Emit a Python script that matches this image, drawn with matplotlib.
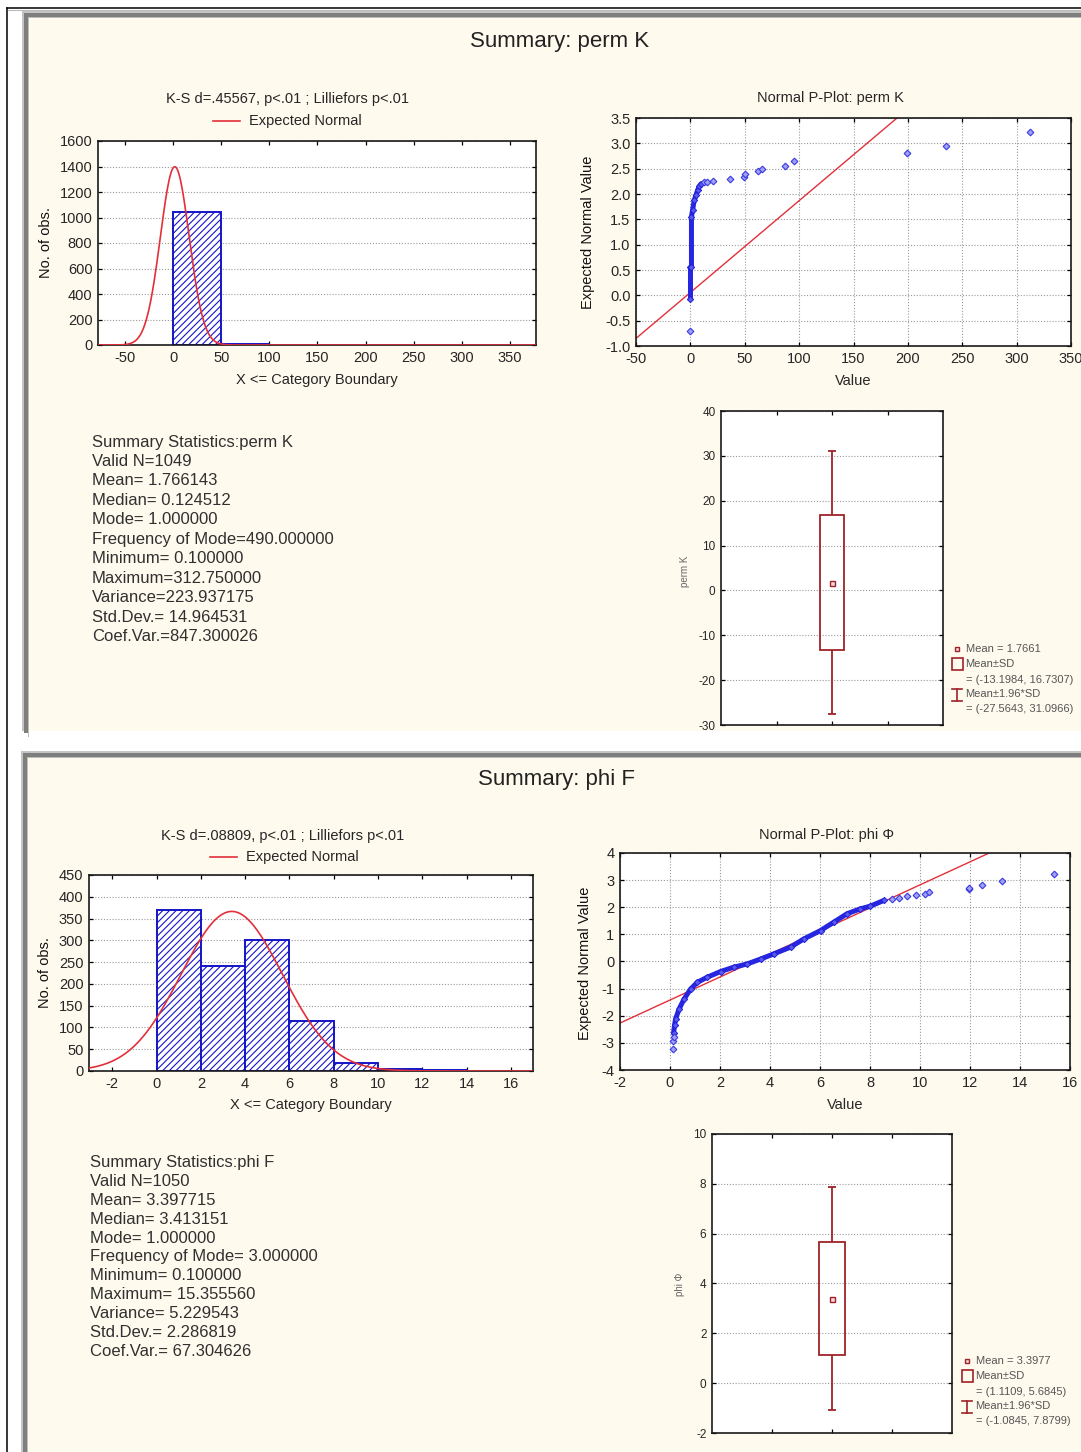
import numpy as np
import matplotlib
matplotlib.use("Agg")
import matplotlib.pyplot as plt
from matplotlib.patches import Rectangle
from matplotlib.ticker import FormatStrFormatter

plt.rcParams['font.family'] = ['Liberation Sans', 'DejaVu Sans']
plt.rcParams['axes.unicode_minus'] = False
plt.rcParams['hatch.linewidth'] = 0.8

W, H = 1081, 1452

# ---------------- perm K ----------------
perm_edges = [0, 50, 100, 150, 200, 250, 300]
perm_counts = [1040, 6, 0, 1, 1, 0, 1]
perm_n = 1049
perm_mean = 1.766143
perm_sd = 14.964531
perm_ks = "K-S d=.45567, p<.01 ; Lilliefors p<.01"

# normal probability plot (value, expected normal value)
perm_pp_dense_x = [0.1, 0.1, 1.0, 1.0, 2.0, 3.6, 5.2, 6.7, 8.2, 9.8]
perm_pp_dense_z = [-0.07, 0.55, 0.56, 1.55, 1.68, 1.88, 1.98, 2.08, 2.15, 2.20]
perm_pp_x = [0.1, 12.8, 15.3, 21.0, 36.4, 49.0, 50.5, 61.9, 66.0, 86.7, 95.6, 199.2, 234.8, 312.75]
perm_pp_z = [-0.70, 2.23, 2.23, 2.25, 2.30, 2.34, 2.39, 2.46, 2.50, 2.56, 2.65, 2.80, 2.94, 3.23]
perm_fit = (0.056, 0.018125)  # intercept, slope

# mean / SD / 1.96*SD box
perm_box = dict(mean=1.7661, sd=(-13.1984, 16.7307), ci=(-27.5643, 31.0966))

perm_summary = [
    "Summary Statistics:perm K",
    "Valid N=1049",
    "Mean= 1.766143",
    "Median= 0.124512",
    "Mode= 1.000000",
    "Frequency of Mode=490.000000",
    "Minimum= 0.100000",
    "Maximum=312.750000",
    "Variance=223.937175",
    "Std.Dev.= 14.964531",
    "Coef.Var.=847.300026",
]

# ---------------- phi F ----------------
phi_edges = [0, 2, 4, 6, 8, 10, 12, 14]
phi_counts = [370, 240, 300, 115, 18, 4, 2, 1]
phi_n = 1050
phi_mean = 3.397715
phi_sd = 2.286819
phi_ks = "K-S d=.08809, p<.01 ; Lilliefors p<.01"

phi_pp_dense_x = [0.14, 0.18, 0.22, 0.36, 0.56, 0.82, 1.09, 1.49, 2.02, 2.55, 3.09,
                  3.62, 4.15, 4.82, 5.35, 6.02, 6.55, 7.08, 7.61, 8.01, 8.55]
phi_pp_dense_z = [-2.65, -2.35, -2.13, -1.76, -1.39, -1.02, -0.77, -0.58, -0.37, -0.21, -0.09,
                  0.09, 0.28, 0.53, 0.83, 1.14, 1.45, 1.76, 1.94, 2.04, 2.25]
phi_pp_x = [0.1, 0.13, 0.14, 8.88, 9.15, 9.48, 9.85, 10.21, 10.34, 11.97, 11.97, 12.47, 13.27, 15.36]
phi_pp_z = [-3.24, -2.93, -2.78, 2.31, 2.35, 2.40, 2.45, 2.50, 2.55, 2.66, 2.71, 2.81, 2.97, 3.21]
phi_fit = (-1.42, 0.4245)

phi_box = dict(mean=3.3977, sd=(1.1109, 5.6845), ci=(-1.0845, 7.8799))

phi_summary = [
    "Summary Statistics:phi F",
    "Valid N=1050",
    "Mean= 3.397715",
    "Median= 3.413151",
    "Mode= 1.000000",
    "Frequency of Mode= 3.000000",
    "Minimum= 0.100000",
    "Maximum= 15.355560",
    "Variance= 5.229543",
    "Std.Dev.= 2.286819",
    "Coef.Var.= 67.304626",
]

CREAM = '#fffaee'
TXT = '#262626'
BLUE = '#1414c8'
RED = '#e2303a'
BOXRED = '#9e2328'
GRID = dict(color='#9a9a9a', linestyle=(0, (1, 1.6)), linewidth=0.8)

fig = plt.figure(figsize=(W / 100, H / 100), dpi=100, facecolor='white')

# background layer in pixel coordinates
bg = fig.add_axes([0, 0, 1, 1])
bg.set_xlim(0, W)
bg.set_ylim(H, 0)
bg.axis('off')


def px_axes(l, t, r, b):
    return fig.add_axes([l / W, 1 - b / H, (r - l) / W, (b - t) / H])


def frame(x0, y0, y1):
    w = W - x0 + 5
    bg.add_patch(Rectangle((x0, y0), w, y1 - y0, fc=CREAM, ec='none'))
    bg.add_patch(Rectangle((x0, y0), w, 1.5, fc='#c4c4c4', ec='none'))
    bg.add_patch(Rectangle((x0, y0 + 1.5), w, 4, fc='#7e7e7e', ec='none'))
    bg.add_patch(Rectangle((x0, y0 + 5.5), w, 1.5, fc='#bdbdbd', ec='none'))
    bg.add_patch(Rectangle((x0, y0), 1.5, y1 - y0, fc='#c4c4c4', ec='none'))
    bg.add_patch(Rectangle((x0 + 1.5, y0 + 1.5), 4, y1 - y0, fc='#7e7e7e', ec='none'))
    bg.add_patch(Rectangle((x0 + 5.5, y0 + 5.5), 1.5, y1 - y0, fc='#bdbdbd', ec='none'))


bg.plot([7, 7], [8, H], color='black', lw=1.1)
bg.plot([7, W], [8, 8], color='black', lw=1.1)
bg.plot([8, W], [9.5, 9.5], color='#bbbbbb', lw=0.8)
frame(22, 11, 731)
frame(21, 751, H + 5)


def style(ax, fs=10.5):
    for s in ax.spines.values():
        s.set_linewidth(1.2)
        s.set_color('#1a1a1a')
    ax.tick_params(direction='in', length=3, width=0.9, top=True, right=True,
                   labelsize=fs, labelcolor=TXT, pad=4)
    ax.set_axisbelow(True)


def histogram(ax, edges, counts, n, mean, sd, xlim, ylim, xticks, yticks):
    style(ax)
    width = edges[1] - edges[0]
    ax.bar(edges, counts, width=width, align='edge', facecolor='white',
           edgecolor=BLUE, hatch='/////', linewidth=1.4, zorder=2)
    x = np.linspace(xlim[0], xlim[1], 500)
    y = n * width * np.exp(-0.5 * ((x - mean) / sd) ** 2) / (sd * np.sqrt(2 * np.pi))
    ax.plot(x, y, color=RED, lw=1.2, zorder=3)
    ax.set_xlim(*xlim)
    ax.set_ylim(*ylim)
    ax.set_xticks(xticks)
    ax.set_yticks(yticks)
    ax.yaxis.grid(True, **GRID)


def pplot(ax, dx, dz, sx, sz, fit, xlim, ylim, xticks, yticks):
    style(ax)
    xs = np.array(xlim)
    ax.plot(xs, fit[0] + fit[1] * xs, color=RED, lw=1.0, zorder=2)
    ax.plot(dx, dz, '-', color='#2626e0', lw=3.6, solid_capstyle='round',
            solid_joinstyle='round', zorder=3)
    ax.plot(dx, dz, 'D', ms=3.2, mfc='#5a5af0', mec='#2020d8', mew=0.7, zorder=3)
    ax.plot(sx, sz, 'D', ms=3.4, mfc='#a0a0f4', mec='#3a3ae0', mew=0.8,
            linestyle='none', zorder=4)
    ax.set_xlim(*xlim)
    ax.set_ylim(*ylim)
    ax.set_xticks(xticks)
    ax.set_yticks(yticks)
    ax.grid(True, **GRID)


def boxplot(ax, box, ylim, yticks):
    style(ax, fs=8.5)
    ax.tick_params(axis='x', labelbottom=False)
    lo, hi = box['sd']
    clo, chi = box['ci']
    ax.add_patch(Rectangle((2 - 0.21, lo), 0.42, hi - lo, fill=False,
                           ec=BOXRED, lw=1.3, zorder=3))
    ax.vlines(2, clo, lo, color=BOXRED, lw=1.3, zorder=3)
    ax.vlines(2, hi, chi, color=BOXRED, lw=1.3, zorder=3)
    ax.hlines([clo, chi], 2 - 0.065, 2 + 0.065, color=BOXRED, lw=1.3, zorder=3)
    ax.plot(2, box['mean'], 's', ms=3.6, mfc='#f2d8d8', mec=BOXRED, mew=1.0, zorder=4)
    ax.set_xlim(0, 4)
    ax.set_ylim(*ylim)
    ax.set_xticks([1, 2, 3])
    ax.set_yticks(yticks)
    ax.yaxis.grid(True, **GRID)


def box_legend(x, y, box):
    # x: marker column centre, y: first row centre
    lo, hi = box['sd']
    clo, chi = box['ci']
    bg.plot(x, y, 's', ms=3.2, mfc='#f2d8d8', mec=BOXRED, mew=1.0)
    bg.text(x + 9, y, f"Mean = {box['mean']:.4f}", fontsize=8, color='#555555', va='center')
    bg.add_patch(Rectangle((x - 5, y + 9), 11, 12, fill=False, ec=BOXRED, lw=1.2))
    bg.text(x + 8, y + 15, "Mean\u00b1SD", fontsize=8, color='#555555', va='center')
    bg.text(x + 9, y + 31, f"= ({lo:.4f}, {hi:.4f})", fontsize=8, color='#555555', va='center')
    bg.plot([x, x], [y + 40, y + 52], color=BOXRED, lw=1.2)
    bg.plot([x - 5, x + 5], [y + 40, y + 40], color=BOXRED, lw=1.2)
    bg.plot([x - 5, x + 5], [y + 52, y + 52], color=BOXRED, lw=1.2)
    bg.text(x + 8, y + 45, "Mean\u00b11.96*SD", fontsize=8, color='#555555', va='center')
    bg.text(x + 9, y + 60, f"= ({clo:.4f}, {chi:.4f})", fontsize=8, color='#555555', va='center')


def summary(x, y, dy, lines):
    for i, s in enumerate(lines):
        bg.text(x, y + i * dy, s, fontsize=12, color='#303030', va='center', ha='left')


def legend_line(x0, y, label):
    bg.plot([x0, x0 + 27], [y, y], color=RED, lw=1.2)
    bg.text(x0 + 36, y, label, fontsize=10.5, color=TXT, va='center')


# ---------- panel 1: perm K ----------
bg.text(560, 41, "Summary: perm K", fontsize=16, color='#222222', ha='center', va='center')
bg.text(287, 99, perm_ks, fontsize=10.5, color=TXT, ha='center', va='center')
legend_line(213, 121, "Expected Normal")
bg.text(46, 243, "No. of obs.", fontsize=10.5, color='#111111', rotation=90, ha='center', va='center')
bg.text(317, 380, "X <= Category Boundary", fontsize=10.5, color=TXT, ha='center', va='center')

ax1 = px_axes(98, 141, 536, 345)
histogram(ax1, perm_edges, perm_counts, perm_n, perm_mean, perm_sd,
          (-78, 377), (0, 1600), np.arange(-50, 351, 50), np.arange(0, 1601, 200))

bg.text(830, 98, "Normal P-Plot: perm \u039a", fontsize=10.5, color=TXT, ha='center', va='center')
bg.text(853, 381, "Value", fontsize=10.5, color=TXT, ha='center', va='center')
bg.text(588, 232, "Expected Normal Value", fontsize=10.5, color='#111111', rotation=90,
        ha='center', va='center')
ax2 = px_axes(636, 118, 1071, 346)
pplot(ax2, perm_pp_dense_x, perm_pp_dense_z, perm_pp_x, perm_pp_z, perm_fit,
      (-50, 350), (-1, 3.5), np.arange(-50, 351, 50), np.arange(-1, 3.51, 0.5))
ax2.yaxis.set_major_formatter(FormatStrFormatter('%.1f'))

ax3 = px_axes(721, 411, 943, 725)
boxplot(ax3, perm_box, (-30, 40), np.arange(-30, 41, 10))
bg.text(685, 571, "perm \u039a", fontsize=7, color='#666666', rotation=90, ha='center', va='center')
box_legend(957, 649, perm_box)

summary(92, 442, 19.46, perm_summary)

# ---------- panel 2: phi F ----------
bg.text(556, 780, "Summary: phi F", fontsize=16, color='#222222', ha='center', va='center')
bg.text(283, 836, phi_ks, fontsize=10.5, color=TXT, ha='center', va='center')
legend_line(210, 857, "Expected Normal")
bg.text(45, 973, "No. of obs.", fontsize=10.5, color='#111111', rotation=90, ha='center', va='center')
bg.text(311, 1105, "X <= Category Boundary", fontsize=10.5, color=TXT, ha='center', va='center')

ax4 = px_axes(89, 875, 533, 1071)
histogram(ax4, phi_edges, phi_counts, phi_n, phi_mean, phi_sd,
          (-3.05, 17.0), (0, 450), np.arange(-2, 17, 2), np.arange(0, 451, 50))

bg.text(827, 835, "Normal P-Plot: phi \u03a6", fontsize=10.5, color=TXT, ha='center', va='center')
bg.text(845, 1105, "Value", fontsize=10.5, color=TXT, ha='center', va='center')
bg.text(585, 963, "Expected Normal Value", fontsize=10.5, color='#111111', rotation=90,
        ha='center', va='center')
ax5 = px_axes(620, 853, 1070, 1070)
pplot(ax5, phi_pp_dense_x, phi_pp_dense_z, phi_pp_x, phi_pp_z, phi_fit,
      (-2, 16), (-4, 4), np.arange(-2, 17, 2), np.arange(-4, 5, 1))

ax6 = px_axes(712, 1134, 952, 1433)
boxplot(ax6, phi_box, (-2, 10), np.arange(-2, 11, 2))
bg.text(680, 1284, "phi \u03a6", fontsize=7, color='#666666', rotation=90, ha='center', va='center')
box_legend(967, 1361, phi_box)

summary(90, 1163, 18.8, phi_summary)

fig.savefig("out.png", dpi=100, facecolor='white')
